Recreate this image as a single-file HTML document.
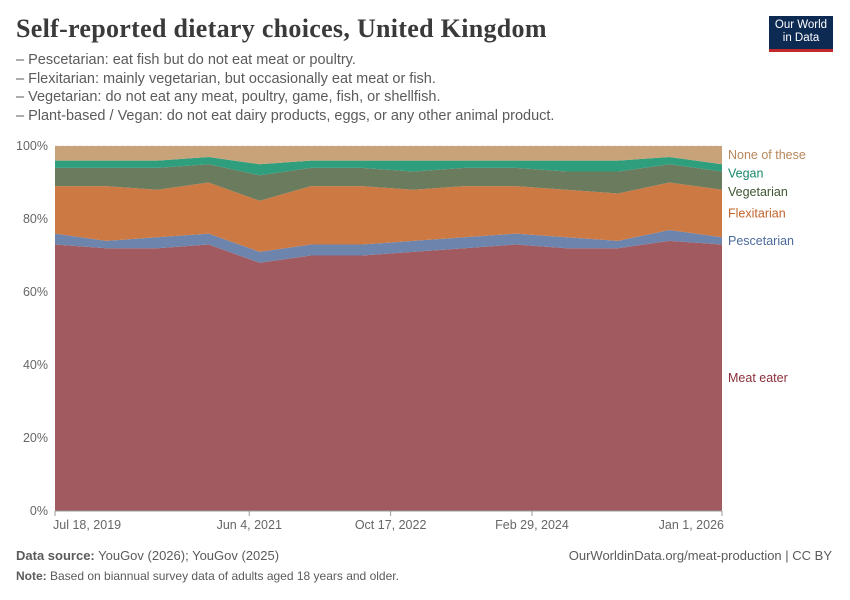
<!DOCTYPE html>
<html><head><meta charset="utf-8">
<style>
body{margin:0;background:#fff;font-family:"Liberation Sans",sans-serif;}
#wrap{position:relative;width:850px;height:600px;overflow:hidden;}
.t{position:absolute;white-space:nowrap;}
</style></head>
<body>
<div id="wrap">
<div class="t" style="left:16px;top:14px;font-family:'Liberation Serif',serif;font-size:26px;font-weight:bold;color:#3a3a3a;letter-spacing:0.3px">Self-reported dietary choices, United Kingdom</div>
<div class="t" style="left:16px;top:51px;font-size:14.5px;line-height:18.5px;color:#5b5b5b">– Pescetarian: eat fish but do not eat meat or poultry.<br>– Flexitarian: mainly vegetarian, but occasionally eat meat or fish.<br>– Vegetarian: do not eat any meat, poultry, game, fish, or shellfish.<br>– Plant-based / Vegan: do not eat dairy products, eggs, or any other animal product.</div>
<div style="position:absolute;left:769px;top:16px;width:64px;height:36px;background:#0d2a52;border-bottom:3px solid #c3282e;color:#fff;font-size:11.5px;line-height:13px;text-align:center;padding-top:3px;box-sizing:border-box;">Our World<br>in Data</div>
<svg id="chart" width="850" height="600" style="position:absolute;left:0;top:0"></svg>
<div class="t" style="left:16px;top:548px;font-size:13px;color:#5b5b5b"><b>Data source:</b> YouGov (2026); YouGov (2025)</div>
<div class="t" style="right:18px;top:548px;font-size:13px;color:#5b5b5b">OurWorldinData.org/meat-production | CC BY</div>
<div class="t" style="left:16px;top:569px;font-size:12px;color:#5b5b5b"><b>Note:</b> Based on biannual survey data of adults aged 18 years and older.</div>
</div>
<script>
const dates=["2019-07-18","2020-01-15","2020-07-14","2021-01-11","2021-07-11","2022-01-08","2022-07-08","2023-01-05","2023-07-05","2024-01-02","2024-07-01","2024-12-29","2025-06-29","2026-01-01"];
const meat=[73,72,72,73,68,70,70,71,72,73,72,72,74,73];
const pescetarian=[3,2,3,3,3,3,3,3,3,3,3,2,3,2];
const flexitarian=[13,15,13,14,14,16,16,14,14,13,13,13,13,13];
const vegetarian=[5,5,6,5,7,5,5,5,5,5,5,6,5,5];
const vegan=[2,2,2,2,3,2,2,3,2,2,3,3,2,2];
const yTicks=[0,20,40,60,80,100];
const xTickDates=["2019-07-18","2021-06-04","2022-10-17","2024-02-29","2026-01-01"];
const xTickLabels=["Jul 18, 2019","Jun 4, 2021","Oct 17, 2022","Feb 29, 2024","Jan 1, 2026"];

const svg=document.getElementById('chart');
const NS='http://www.w3.org/2000/svg';
const X0=55,X1=722,Y0=511,Y1=146;
const t0=Date.parse(dates[0]),t1=Date.parse(dates[dates.length-1]);
const x=d=>X0+(Date.parse(d)-t0)/(t1-t0)*(X1-X0);
const y=v=>Y0-(v/100)*(Y0-Y1);
function el(tag,attrs){const e=document.createElementNS(NS,tag);for(const k in attrs)e.setAttribute(k,attrs[k]);svg.appendChild(e);return e;}

yTicks.forEach(v=>{
  const g=el('line',{x1:X0,x2:X1,y1:y(v),y2:y(v),stroke:'#ddd','stroke-dasharray':v===0?'':'3,3'});
  
  
  const t=el('text',{x:48,y:y(v)+4,'text-anchor':'end','font-size':12.5,fill:'#666','font-family':'Liberation Sans'});
  t.textContent=v+'%';
  
  
});

const none=meat.map((m,i)=>100-m-pescetarian[i]-flexitarian[i]-vegetarian[i]-vegan[i]);
const series=[
 {name:'meat-eater',vals:meat,color:'#a05a60',label:'Meat eater',lc:'#8c2f3a'},
 {name:'pescetarian',vals:pescetarian,color:'#6d84ad',label:'Pescetarian',lc:'#4c6a9c'},
 {name:'flexitarian',vals:flexitarian,color:'#cc7944',label:'Flexitarian',lc:'#c0632a'},
 {name:'vegetarian',vals:vegetarian,color:'#6b7b5e',label:'Vegetarian',lc:'#3d5530'},
 {name:'vegan',vals:vegan,color:'#2e9e7d',label:'Vegan',lc:'#17876a'},
 {name:'none-of-these',vals:none,color:'#c8a379',label:'None of these',lc:'#b8875a'}
];
let base=dates.map(()=>0);
series.forEach(s=>{
  const top=base.map((b,i)=>b+s.vals[i]);
  let d='M'+dates.map((dt,i)=>x(dt)+','+y(top[i])).join('L');
  for(let i=dates.length-1;i>=0;i--)d+='L'+x(dates[i])+','+y(base[i]);
  const p=el('path',{d:d+'Z',fill:s.color});
  
  
  const n=dates.length-1;
  s.mid=(base[n]+top[n])/2;
  base=top;
});
let pos=series.map(s=>y(s.mid)+4);
const last=pos.length-1;
pos[last]=Math.max(pos[last],Y1+8.5);
for(let i=last-1;i>=0;i--){if(pos[i]-pos[i+1]<18.5)pos[i]=pos[i+1]+18.5;}
series.forEach((s,i)=>{
  const t=el('text',{x:728,y:pos[i],'font-size':12.5,fill:s.lc,'font-family':'Liberation Sans'});
  t.textContent=s.label;
  
  
});
const ax=el('line',{x1:X0,x2:X1,y1:Y0,y2:Y0,stroke:'#999'});


xTickDates.forEach((d,i)=>{
  const tk=el('line',{x1:x(d),x2:x(d),y1:Y0,y2:Y0+5,stroke:'#999'});
  
  
  const anchor=i===xTickLabels.length-1?'end':(i===0?'start':'middle');
  const xx=i===0?x(d)-2:(i===xTickLabels.length-1?x(d)+2:x(d));
  const t=el('text',{x:xx,y:Y0+18,'text-anchor':anchor,'font-size':12.5,fill:'#666','font-family':'Liberation Sans'});
  t.textContent=xTickLabels[i];
  
  
});
</script>
</body></html>
